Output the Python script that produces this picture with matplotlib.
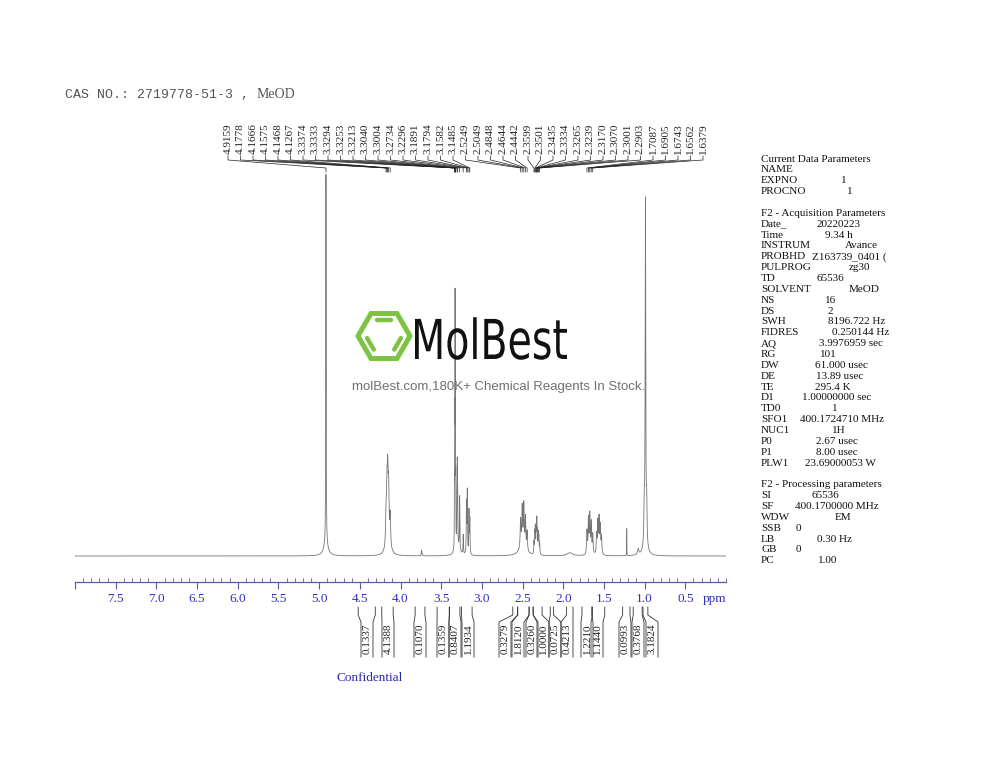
import numpy as np
import matplotlib
matplotlib.use("Agg")
import matplotlib.pyplot as plt
from matplotlib.patches import RegularPolygon, PathPatch
from matplotlib.textpath import TextPath
from matplotlib.font_manager import FontProperties
from matplotlib.transforms import Affine2D

# ---------------- data ----------------
peak_ppm = [4.9159, 4.1778, 4.1666, 4.1575, 4.1468, 4.1267,
            3.3374, 3.3333, 3.3294, 3.3253, 3.3213, 3.3040, 3.3004, 3.2734, 3.2296,
            3.1891, 3.1794, 3.1582, 3.1485,
            2.5249, 2.5049, 2.4848, 2.4644, 2.4442,
            2.3599, 2.3501, 2.3435, 2.3334, 2.3265, 2.3239, 2.3170, 2.3070, 2.3001, 2.2903,
            1.7087, 1.6905, 1.6743, 1.6562, 1.6379]
peak_height = [0.96, 0.08, 0.13, 0.155, 0.13, 0.08,
               0.15, 0.29, 0.60, 0.29, 0.15, 0.16, 0.15, 0.14, 0.05,
               0.13, 0.16, 0.11, 0.09,
               0.07, 0.095, 0.105, 0.08, 0.05,
               0.03, 0.05, 0.06, 0.06, 0.05, 0.05, 0.05, 0.05, 0.04, 0.03,
               0.06, 0.09, 0.10, 0.08, 0.05]
peak_width = [0.0025, 0.006, 0.006, 0.006, 0.006, 0.006,
              0.0015, 0.0015, 0.0015, 0.0015, 0.0015, 0.003, 0.003, 0.003, 0.003,
              0.003, 0.003, 0.003, 0.003,
              0.005, 0.005, 0.005, 0.005, 0.005,
              0.003, 0.003, 0.003, 0.003, 0.003, 0.003, 0.003, 0.003, 0.003, 0.003,
              0.005, 0.005, 0.005, 0.005, 0.005]

# unlabeled signals
extra_ppm = [4.9159, 4.15, 3.74, 3.30, 2.50, 1.92,
             1.590, 1.575, 1.560, 1.545, 1.530,
             1.22, 1.08, 0.990, 1.005, 0.975, 0.99]
extra_height = [0.03, 0.03, 0.015, 0.02, 0.03, 0.008,
                0.05, 0.08, 0.09, 0.07, 0.045,
                0.07, 0.015, 0.89, 0.10, 0.10, 0.02]
extra_width = [0.03, 0.03, 0.004, 0.03, 0.04, 0.04,
               0.005, 0.005, 0.005, 0.005, 0.005,
               0.0012, 0.01, 0.004, 0.005, 0.005, 0.03]

integral_value = ["0.1337", "4.1388", "0.1070", "0.1359", "0.8407", "1.1934",
                  "0.3279", "1.8120", "0.3260", "1.0000", "0.0725", "0.4213",
                  "1.2210", "1.1440", "0.0993", "0.3768", "3.1824"]
integral_start = [4.52, 4.23, 3.82, 3.55, 3.40, 3.25, 2.62, 2.56, 2.42, 2.37, 2.16, 1.96,
                  1.77, 1.64, 1.27, 1.14, 1.02]
integral_end = [4.31, 4.09, 3.70, 3.40, 3.27, 3.12, 2.56, 2.42, 2.37, 2.26, 2.12, 1.88,
                1.65, 1.49, 1.18, 1.03, 0.96]

major_ticks = [8.0, 7.5, 7.0, 6.5, 6.0, 5.5, 5.0, 4.5, 4.0, 3.5, 3.0, 2.5, 2.0, 1.5, 1.0, 0.5]
major_labels = ["", "7.5", "7.0", "6.5", "6.0", "5.5", "5.0", "4.5", "4.0", "3.5", "3.0",
                "2.5", "2.0", "1.5", "1.0", "0.5"]

param_keys = ["Current Data Parameters", "NAME", "EXPNO", "PROCNO", "",
              "F2 - Acquisition Parameters", "Date_", "Time", "INSTRUM", "PROBHD", "PULPROG",
              "TD", "SOLVENT", "NS", "DS", "SWH", "FIDRES", "AQ", "RG", "DW", "DE", "TE",
              "D1", "TD0", "SFO1", "NUC1", "P0", "P1", "PLW1", "",
              "F2 - Processing parameters", "SI", "SF", "WDW", "SSB", "LB", "GB", "PC"]
param_values = ["", "", "1", "1", "",
                "", "20220223", "9.34 h", "Avance", "Z163739_0401 (", "zg30",
                "65536", "MeOD", "16", "2", "8196.722 Hz", "0.250144 Hz", "3.9976959 sec",
                "101", "61.000 usec", "13.89 usec", "295.4 K", "1.00000000 sec", "1",
                "400.1724710 MHz", "1H", "2.67 usec", "8.00 usec", "23.69000053 W", "",
                "", "65536", "400.1700000 MHz", "EM", "0", "0.30 Hz", "0", "1.00"]

# ---------------- layout ----------------
W, H = 1000, 773
plt.rcParams['font.family'] = ['Liberation Serif', 'DejaVu Serif']
fig = plt.figure(figsize=(W / 100, H / 100), dpi=100)
fig.patch.set_facecolor('white')

def fx(px):
    return px / W

def fy(py):
    return 1 - py / H

axis_color = '#5a5aa8'
label_color = '#3030c0'

# spectrum axes
ax = fig.add_axes([fx(75), fy(560), 651 / W, 410 / H])
ax.set_xlim(8.0, 0.0)
ax.set_ylim(-4 / 386, 406 / 386)
ax.axis('off')

xs = np.linspace(8.0, 0.0, 32001)
ys = np.zeros_like(xs)
for p, h, w in zip(peak_ppm + extra_ppm, peak_height + extra_height, peak_width + extra_width):
    ys += h / (1 + ((xs - p) / w) ** 2)
ax.plot(xs, ys, color='#767676', lw=0.6)

# ppm axis
axx = fig.add_axes([fx(75), fy(582), 651 / W, 0.0001])
axx.set_xlim(8.0, 0.0)
axx.patch.set_alpha(0)
axx.set_yticks([])
for s in ['top', 'left', 'right']:
    axx.spines[s].set_visible(False)
axx.spines['bottom'].set_color(axis_color)
axx.spines['bottom'].set_linewidth(0.9)
axx.set_xticks(major_ticks)
axx.set_xticklabels(major_labels)
axx.set_xticks(np.round(np.arange(0.0, 8.0001, 0.1), 1), minor=True)
axx.tick_params(which='major', direction='out', length=5, width=0.8, color=axis_color,
                labelcolor=label_color, labelsize=9.5, pad=3)
axx.tick_params(which='minor', direction='in', length=3, width=0.6, color=axis_color)

# overlay in pixel coordinates
ov = fig.add_axes([0, 0, 1, 1])
ov.set_xlim(0, W)
ov.set_ylim(H, 0)
ov.axis('off')
ov.patch.set_alpha(0)

def ppm_to_px(vals):
    vals = np.asarray(vals, dtype=float)
    disp = ax.transData.transform(np.column_stack([vals, np.zeros_like(vals)]))
    return disp[:, 0]

ov.text(715, 599, "ppm", color=label_color, fontsize=9.5, ha='center', va='center')

# peak labels
label_x = np.linspace(228, 703, len(peak_ppm))
peak_px = ppm_to_px(peak_ppm)
for lx, px, p in zip(label_x, peak_px, peak_ppm):
    ov.text(lx, 154, f"{p:.4f}", rotation=90, ha='center', va='bottom', fontsize=8,
            color='#222222')
    ov.plot([lx, lx, px, px], [156, 160, 168, 172], color='#222222', lw=0.5)

# integrals
int_label_x = [367, 388, 420, 443, 455, 468, 505, 518, 532, 543, 555, 567, 587, 597, 625,
               638, 652]
xa = ppm_to_px(integral_start)
xb = ppm_to_px(integral_end)
for val, a, b, lx in zip(integral_value, xa, xb, int_label_x):
    ov.plot([a, a, lx - 6, lx - 6], [607, 615, 622, 657], color='#333333', lw=0.6)
    ov.plot([b, b, lx + 6, lx + 6], [607, 615, 622, 657], color='#333333', lw=0.6)
    ov.text(lx, 639, val, rotation=90, ha='center', va='center', fontsize=8, color='#222222')

# parameters
value_x = [0, 0, 844, 850, 0,
           0, 839, 839, 861, 812, 859,
           830, 864, 831, 830, 857, 861, 851,
           828, 841, 840, 833, 837, 835,
           842, 839, 837, 837, 840, 0,
           0, 825, 837, 843, 798, 834, 798, 828]
for i, (k, v, vx) in enumerate(zip(param_keys, param_values, value_x)):
    yy = 159 + i * 10.86
    if k:
        ov.text(761, yy, k, fontsize=8, ha='left', va='center', color='#111111')
    if v:
        ha = 'left' if k == 'PROBHD' else 'center'
        ov.text(vx, yy, v, fontsize=8, ha=ha, va='center', color='#111111')

# title
ov.text(65, 95, "CAS NO.: 2719778-51-3 ,", family=['Liberation Mono', 'DejaVu Sans Mono'],
        fontsize=9.5, ha='left', va='center', color='#555555')
ov.text(257, 95, "MeOD", fontsize=10, ha='left', va='center', color='#555555')

ov.text(370, 678, "Confidential", fontsize=9.5, ha='center', va='center', color='#2a2aa0')

# watermark
green = '#7dc243'
cx, cy, r = 384, 336, 26
ov.add_patch(RegularPolygon((cx, cy), 6, radius=r, orientation=np.pi / 6, fill=False,
                            edgecolor=green, lw=3.6))
ri = 17
for a0 in [60, 180, 300]:
    a1 = a0 + 60
    t0, t1 = np.deg2rad(a0 + 7), np.deg2rad(a1 - 7)
    ov.plot([cx + ri * np.cos(t0), cx + ri * np.cos(t1)],
            [cy - ri * np.sin(t0), cy - ri * np.sin(t1)], color=green, lw=3.2,
            solid_capstyle='round')

tp = TextPath((0, 0), "MolBest", size=55, prop=FontProperties(family='DejaVu Sans'))
ext = tp.get_extents()
sx = 152 / ext.width
tr = Affine2D().translate(-ext.x0, 0).scale(sx, -1.0).translate(415, 359) + ov.transData
ov.add_patch(PathPatch(tp, transform=tr, facecolor='#111111', edgecolor='none'))

ov.text(499, 387, "molBest.com,180K+ Chemical Reagents In Stock.",
        family=['Liberation Sans', 'DejaVu Sans'], fontsize=9.5, ha='center', va='center',
        color='#707070')

fig.savefig("out.png", dpi=100)
